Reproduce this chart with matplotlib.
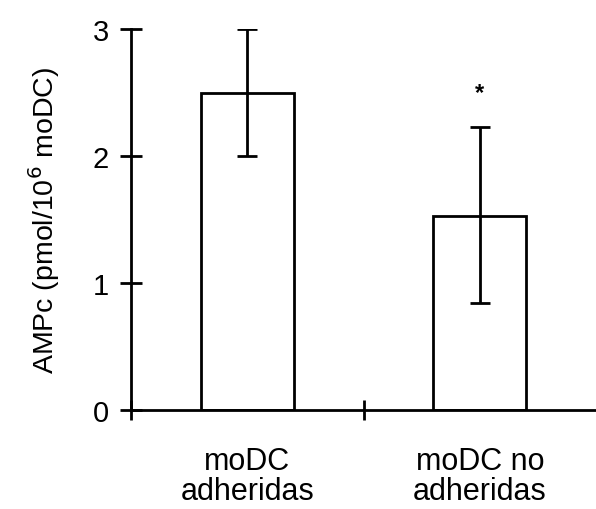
import numpy as np
import matplotlib
matplotlib.use("Agg")
import matplotlib.pyplot as plt

# --- Datos ---
categorias = ["moDC\nadheridas", "moDC no\nadheridas"]
ampc = [2.5, 1.53]
error_inf = [0.5, 0.69]
error_sup = [0.5, 0.70]
asterisco_y = 2.5

plt.rcParams['font.family'] = ['Liberation Sans', 'DejaVu Sans']

fig = plt.figure(figsize=(5.96, 5.10), dpi=100)
ax = fig.add_axes([0.22, 0.194, 0.78, 0.747])

x = np.arange(len(categorias))
ax.bar(x, ampc, width=0.4, color='white', edgecolor='black', linewidth=2, zorder=2)
ax.errorbar(x, ampc, yerr=[error_inf, error_sup], fmt='none', ecolor='black',
            elinewidth=2, capsize=7, capthick=2, zorder=3)
ax.text(x[1], asterisco_y, '*', ha='center', va='center', fontsize=17, fontweight='bold')

ax.set_xlim(-0.5, 1.5)
ax.set_ylim(0, 3)

for s in ['top', 'right']:
    ax.spines[s].set_visible(False)
for s in ['left', 'bottom']:
    ax.spines[s].set_linewidth(2)
    ax.spines[s].set_clip_on(False)

ax.set_yticks([0, 1, 2, 3])
ax.tick_params(axis='y', direction='inout', length=16, width=2, labelsize=21, pad=8)

# ticks mayores entre categorías, etiquetas en ticks menores
ax.set_xticks([-0.5, 0.5])
ax.set_xticklabels(['', ''])
ax.tick_params(axis='x', which='major', direction='inout', length=15, width=2)
ax.set_xticks(x, minor=True)
ax.set_xticklabels(categorias, minor=True, fontsize=22, linespacing=1.0)
ax.tick_params(axis='x', which='minor', length=0, pad=26)

ax.set_ylabel('AMPc (pmol/10$^6$ moDC)', fontsize=20.5, labelpad=22)

fig.savefig('out.png', dpi=100)
